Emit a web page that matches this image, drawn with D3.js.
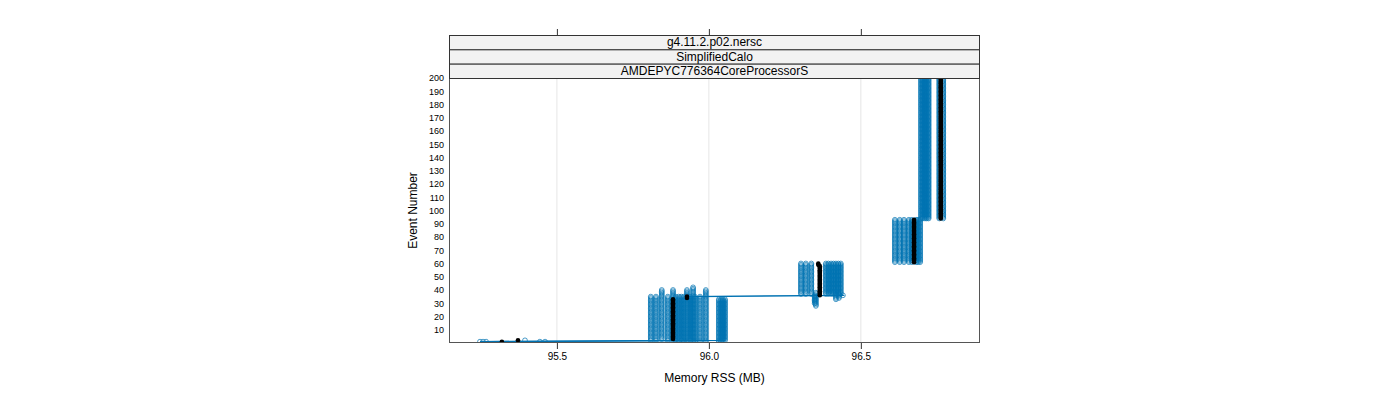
<!DOCTYPE html>
<html>
<head>
<meta charset="utf-8">
<script src="https://cdn.jsdelivr.net/npm/d3@7"></script>
<style>
  html, body { margin: 0; padding: 0; background: #ffffff; }
  svg { display: block; font-family: "Liberation Sans", Arial, sans-serif; }
</style>
</head>
<body>
<svg id="chart" width="1400" height="400"></svg>
<script>
// ---- Data ----
// Strip labels (top to bottom)
const stripLabels = ["g4.11.2.p02.nersc", "SimplifiedCalo", "AMDEPYC776364CoreProcessorS"];
// Axis tick values
const xTicks = [95.5, 96.0, 96.5];
const xTickLabels = ["95.5", "96.0", "96.5"];
const yTicks = [10, 20, 30, 40, 50, 60, 70, 80, 90, 100, 110, 120, 130, 140, 150, 160, 170, 180, 190, 200];

// Each series: runs of [memory RSS (MB), first event, last event] where memory stays constant.
const blackSeries = [[95.319, 1, 1], [95.372, 2, 2], [95.882, 3, 33], [95.928, 34, 35], [96.365, 36, 58], [96.360, 59, 60], [96.675, 61, 93], [96.763, 94, 200]];

const blue01 = [[95.247, 1, 1], [96.053, 2, 33]];
const blue02 = [[95.267, 1, 1], [95.938, 2, 35], [96.441, 36, 36], [96.434, 37, 60]];
const blue03 = [[95.257, 1, 1], [95.809, 2, 35], [96.303, 37, 60], [96.612, 61, 93]];
const blue04 = [[95.395, 2, 2], [95.845, 3, 40]];
const blue05 = [[95.444, 1, 1], [95.826, 2, 35], [96.319, 37, 60], [96.628, 61, 93]];
const blue06 = [[95.461, 1, 1], [95.865, 2, 35], [96.337, 37, 60], [96.642, 61, 93]];
const blue07 = [[95.882, 2, 40]];
const blue08 = [[95.901, 1, 35], [96.385, 37, 60], [96.658, 61, 93]];
const blue09 = [[95.918, 1, 35], [96.402, 37, 60], [96.688, 61, 93]];
const blue10 = [[95.928, 1, 40]];
const blue11 = [[95.948, 1, 42]];
const blue12 = [[95.954, 1, 35], [96.418, 37, 60], [96.695, 61, 93]];
const blue13 = [[95.971, 1, 35], [96.426, 37, 60], [96.682, 61, 93]];
const blue14 = [[95.990, 1, 40]];
const blue15 = [[96.033, 1, 33], [96.698, 94, 200]];
const blue16 = [[96.040, 1, 33], [96.704, 94, 200]];
const blue17 = [[96.046, 2, 33], [96.711, 94, 200]];
const blue18 = [[96.352, 28, 38], [96.717, 94, 200]];
const blue19 = [[96.418, 33, 37], [96.723, 94, 200]];
const blue20 = [[96.348, 30, 36], [96.758, 94, 200]];
const blue21 = [[96.428, 34, 37], [96.771, 94, 200]];
const blue22 = [[95.891, 2, 35], [96.393, 37, 60], [96.668, 61, 93]];
const blue23 = [[95.909, 2, 35], [96.410, 37, 60]];

const blueSeries = [blue01, blue02, blue03, blue04, blue05, blue06, blue07, blue08, blue09, blue10, blue11,
                    blue12, blue13, blue14, blue15, blue16, blue17, blue18, blue19, blue20, blue21, blue22, blue23];
// Series drawn with connecting lines (index into blueSeries)
const lineSeries = [0, 1];

// ---- Layout ----
const panel = { left: 449, right: 980, top: 78, bottom: 343 };
const stripTop = 35, stripH = (panel.top - stripTop) / 3;
const blue = "#0072B2";

const svg = d3.select("#chart");
const x = d3.scaleLinear().domain([95.145, 96.892]).range([panel.left, panel.right]);
const y = d3.scaleLinear().domain([0, 200]).range([panel.bottom, panel.top]);

// expand runs into points
function expand(runs) {
  const pts = [];
  runs.forEach(([m, a, b]) => { for (let e = a; e <= b; e++) pts.push([m, e]); });
  return pts;
}

// grid
svg.append("g").selectAll("line").data(xTicks).join("line")
  .attr("x1", d => x(d)).attr("x2", d => x(d))
  .attr("y1", panel.top).attr("y2", panel.bottom)
  .attr("stroke", "#e6e6e6").attr("stroke-width", 1);

// clip
svg.append("clipPath").attr("id", "clip").append("rect")
  .attr("x", panel.left).attr("y", panel.top)
  .attr("width", panel.right - panel.left).attr("height", panel.bottom - panel.top);

const plot = svg.append("g").attr("clip-path", "url(#clip)");

// lines
const line = d3.line().x(d => x(d[0])).y(d => y(d[1]));
lineSeries.forEach(i => {
  plot.append("path").attr("d", line(expand(blueSeries[i])))
    .attr("fill", "none").attr("stroke", blue).attr("stroke-width", 1.3);
});

// blue open circles
blueSeries.forEach(s => {
  plot.append("g").selectAll("circle").data(expand(s)).join("circle")
    .attr("cx", d => x(d[0])).attr("cy", d => y(d[1])).attr("r", 2.4)
    .attr("fill", "none").attr("stroke", blue).attr("stroke-width", 0.7);
});

// black filled points
plot.append("g").selectAll("circle").data(expand(blackSeries)).join("circle")
  .attr("cx", d => x(d[0])).attr("cy", d => y(d[1])).attr("r", 2.3)
  .attr("fill", "#000");

// panel border
svg.append("rect").attr("x", panel.left + 0.5).attr("y", panel.top + 0.5)
  .attr("width", panel.right - panel.left - 1).attr("height", panel.bottom - panel.top - 1)
  .attr("fill", "none").attr("stroke", "#555").attr("stroke-width", 1);

// strips
stripLabels.forEach((lab, i) => {
  const yy = stripTop + i * stripH;
  svg.append("rect").attr("x", panel.left + 0.5).attr("y", yy + 0.5)
    .attr("width", panel.right - panel.left - 1).attr("height", stripH)
    .attr("fill", "#f2f2f2").attr("stroke", "#333").attr("stroke-width", 1);
  svg.append("text").attr("x", (panel.left + panel.right) / 2).attr("y", yy + stripH / 2 + 1)
    .attr("text-anchor", "middle").attr("dominant-baseline", "middle")
    .attr("font-size", 12).attr("fill", "#000").text(lab);
});

// bottom axis
const xb = svg.append("g").attr("transform", `translate(0,${panel.bottom})`)
  .call(d3.axisBottom(x).tickValues(xTicks).tickFormat((d, i) => xTickLabels[i]).tickSize(6).tickPadding(4));
xb.select(".domain").remove();
xb.selectAll("line").attr("stroke", "#333");
xb.selectAll("text").attr("font-size", 10).attr("fill", "#000").attr("font-family", "Liberation Sans, Arial, sans-serif");

// top ticks (no labels)
const xt = svg.append("g").attr("transform", `translate(0,${stripTop})`)
  .call(d3.axisTop(x).tickValues(xTicks).tickFormat("").tickSize(6));
xt.select(".domain").remove();
xt.selectAll("line").attr("stroke", "#333");

// left axis labels
const yl = svg.append("g").attr("transform", `translate(${panel.left},0)`)
  .call(d3.axisLeft(y).tickValues(yTicks).tickSize(0).tickPadding(5));
yl.select(".domain").remove();
yl.selectAll("text").attr("font-size", 9).attr("fill", "#000").attr("font-family", "Liberation Sans, Arial, sans-serif");

// axis titles
svg.append("text").attr("x", (panel.left + panel.right) / 2).attr("y", 382)
  .attr("text-anchor", "middle").attr("font-size", 12).attr("fill", "#000").text("Memory RSS (MB)");
svg.append("text").attr("transform", `translate(417,${(panel.top + panel.bottom) / 2}) rotate(-90)`)
  .attr("text-anchor", "middle").attr("font-size", 12).attr("fill", "#000").text("Event Number");
</script>
</body>
</html>
